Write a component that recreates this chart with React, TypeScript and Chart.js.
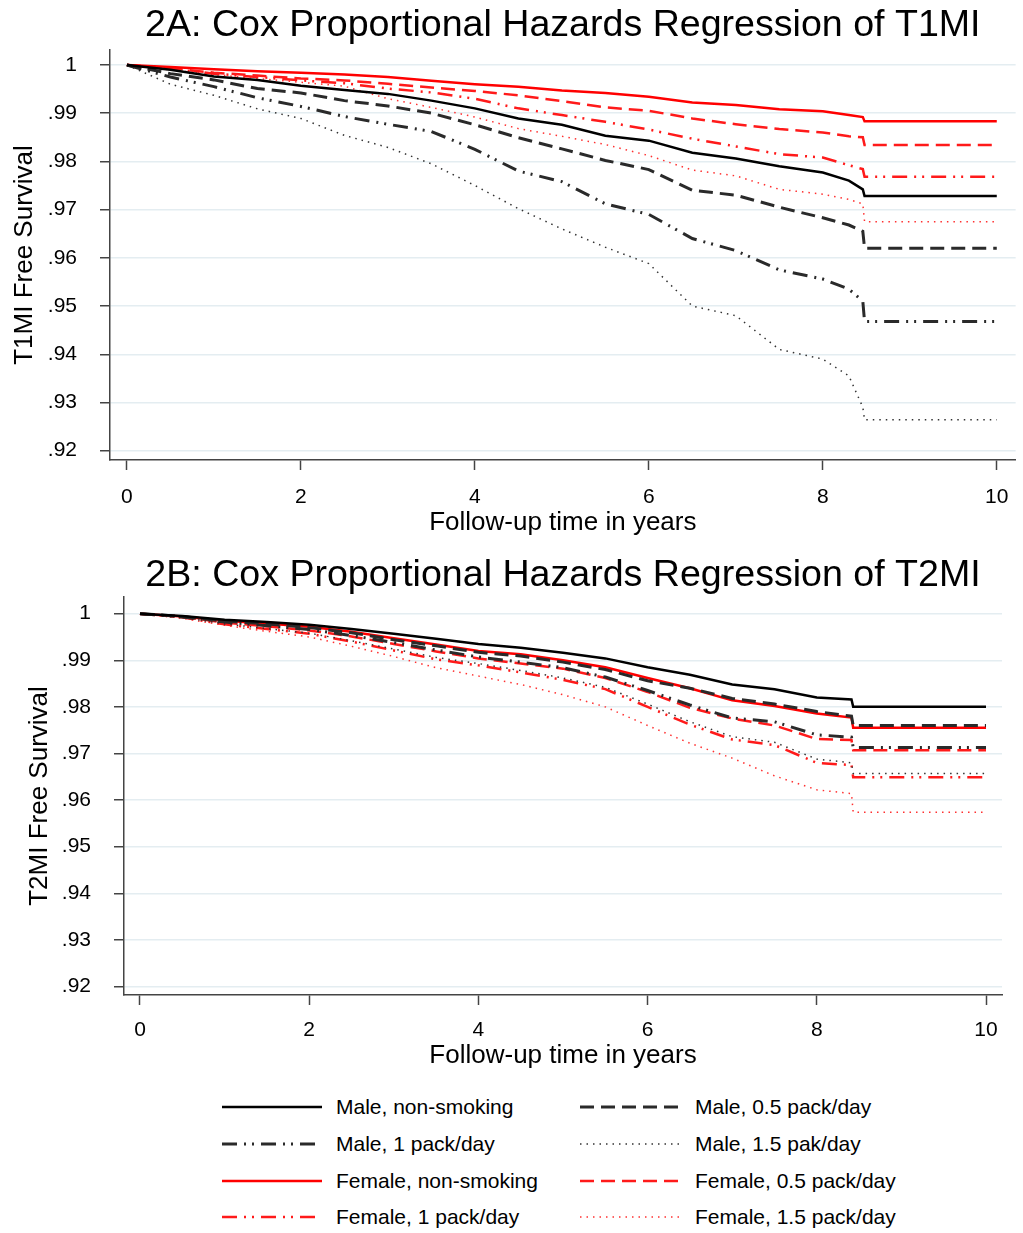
import React, { useEffect, useRef } from "react";
import { Chart, registerables } from "chart.js";

Chart.register(...registerables);

const FONT = "'Liberation Sans', Arial, Helvetica, sans-serif";

// ---------- data ----------
const seriesLabels = [
  "Male, non-smoking",
  "Male, 0.5 pack/day",
  "Male, 1 pack/day",
  "Male, 1.5 pak/day",
  "Female, non-smoking",
  "Female, 0.5 pack/day",
  "Female, 1 pack/day",
  "Female, 1.5 pack/day",
];

const xTickValues = [0, 2, 4, 6, 8, 10];
const yTickValues = [1, 0.99, 0.98, 0.97, 0.96, 0.95, 0.94, 0.93, 0.92];

// Panel 2A (T1MI)
const timesA = [0, 0.5, 1, 1.5, 2, 2.5, 3, 3.5, 4, 4.5, 5, 5.5, 6, 6.5, 7, 7.5, 8, 8.3, 8.46, 8.48, 10];
const maleNonSmokingA = [1, 0.999, 0.9976, 0.9969, 0.9957, 0.9948, 0.994, 0.9926, 0.991, 0.9889, 0.9876, 0.9853, 0.9843, 0.9818, 0.9806, 0.979, 0.9777, 0.976, 0.9742, 0.9728, 0.9728];
const maleHalfPackA = [1, 0.9982, 0.9969, 0.9951, 0.9942, 0.9926, 0.9915, 0.99, 0.9876, 0.9849, 0.9826, 0.9802, 0.9783, 0.974, 0.973, 0.9705, 0.9683, 0.9668, 0.9655, 0.962, 0.962];
const maleOnePackA = [1, 0.9975, 0.9955, 0.9932, 0.9914, 0.9893, 0.9877, 0.9862, 0.9825, 0.978, 0.9758, 0.9712, 0.969, 0.964, 0.9615, 0.9575, 0.9556, 0.9535, 0.951, 0.9468, 0.9468];
const maleOneHalfPackA = [1, 0.996, 0.9937, 0.9909, 0.9889, 0.9854, 0.9829, 0.9795, 0.975, 0.9702, 0.966, 0.9622, 0.9588, 0.95, 0.948, 0.941, 0.939, 0.9355, 0.929, 0.9264, 0.9264];
const femaleNonSmokingA = [1, 0.9996, 0.9991, 0.9987, 0.9984, 0.998, 0.9975, 0.9967, 0.996, 0.9955, 0.9947, 0.9942, 0.9934, 0.9922, 0.9917, 0.9908, 0.9904, 0.9896, 0.9892, 0.9883, 0.9883];
const femaleHalfPackA = [1, 0.9993, 0.9984, 0.9978, 0.9972, 0.9968, 0.9961, 0.9953, 0.9946, 0.9937, 0.9925, 0.9912, 0.9905, 0.9889, 0.9877, 0.9867, 0.986, 0.9852, 0.985, 0.9834, 0.9834];
const femaleOnePackA = [1, 0.9992, 0.9982, 0.9975, 0.9968, 0.9962, 0.9951, 0.9943, 0.993, 0.991, 0.9896, 0.9882, 0.9866, 0.9847, 0.9831, 0.9815, 0.9808, 0.9792, 0.9784, 0.9768, 0.9768];
const femaleOneHalfPackA = [1, 0.999, 0.998, 0.9972, 0.9964, 0.9956, 0.993, 0.9912, 0.9892, 0.9868, 0.9852, 0.9835, 0.9812, 0.9782, 0.977, 0.9742, 0.9732, 0.9721, 0.9712, 0.9675, 0.9675];

// Panel 2B (T2MI)
const timesB = [0, 0.5, 1, 1.5, 2, 2.5, 3, 3.5, 4, 4.5, 5, 5.5, 6, 6.5, 7, 7.5, 8, 8.41, 8.43, 10];
const maleNonSmokingB = [1, 0.9995, 0.9987, 0.9982, 0.9976, 0.9967, 0.9957, 0.9946, 0.9935, 0.9927, 0.9916, 0.9904, 0.9885, 0.9869, 0.9848, 0.9838, 0.982, 0.9816, 0.98, 0.98];
const maleHalfPackB = [1, 0.9994, 0.9984, 0.9978, 0.997, 0.9959, 0.9944, 0.9931, 0.9917, 0.9909, 0.9896, 0.988, 0.9856, 0.984, 0.9818, 0.9806, 0.979, 0.978, 0.976, 0.976];
const maleOnePackB = [1, 0.9993, 0.9982, 0.9974, 0.9966, 0.9953, 0.9938, 0.9922, 0.9907, 0.9896, 0.9884, 0.9864, 0.9835, 0.9804, 0.9776, 0.9768, 0.974, 0.9735, 0.9713, 0.9713];
const maleOneHalfPackB = [1, 0.9992, 0.9978, 0.9968, 0.9958, 0.9942, 0.9924, 0.9906, 0.9893, 0.9878, 0.9862, 0.9842, 0.9806, 0.9768, 0.9736, 0.9724, 0.9688, 0.968, 0.9657, 0.9657];
const femaleNonSmokingB = [1, 0.9994, 0.9985, 0.9979, 0.9972, 0.9961, 0.9947, 0.9934, 0.992, 0.9913, 0.99, 0.9885, 0.9862, 0.984, 0.9814, 0.9802, 0.9786, 0.9777, 0.9755, 0.9755];
const femaleHalfPackB = [1, 0.9993, 0.9981, 0.9973, 0.9964, 0.9951, 0.9935, 0.9919, 0.9904, 0.9893, 0.9882, 0.9862, 0.9832, 0.9798, 0.9775, 0.976, 0.9731, 0.9729, 0.9707, 0.9707];
const femaleOnePackB = [1, 0.9992, 0.9977, 0.9967, 0.9957, 0.994, 0.9921, 0.9902, 0.9889, 0.9874, 0.9858, 0.9838, 0.98, 0.9762, 0.973, 0.9718, 0.968, 0.9675, 0.9649, 0.9649];
const femaleOneHalfPackB = [1, 0.999, 0.9975, 0.9962, 0.995, 0.993, 0.9908, 0.9884, 0.9866, 0.9848, 0.9826, 0.98, 0.976, 0.9722, 0.969, 0.9652, 0.9622, 0.9614, 0.9574, 0.9574];

// ---------- styles ----------
const DASH = [14, 7];
const DASHDOT = [15, 7, 2, 6, 2, 7];
const DOT = [1.5, 5];
const STYLES = [
  { color: "#000000", width: 2.5, dash: [] as number[] },
  { color: "#2a2a2a", width: 3, dash: DASH },
  { color: "#2a2a2a", width: 3, dash: DASHDOT },
  { color: "#333333", width: 1.5, dash: DOT },
  { color: "#ff0000", width: 2.5, dash: [] as number[] },
  { color: "#ff1a1a", width: 2.5, dash: DASH },
  { color: "#ff1a1a", width: 2.5, dash: DASHDOT },
  { color: "#ff3030", width: 1.5, dash: DOT },
];

type PanelOpts = {
  times: number[];
  series: number[][];
  title: string;
  yTitle: string;
  yMin: number;
  yMax: number;
  xMin: number;
  xMax: number;
  yAxisWidth: number;
  xAxisHeight: number;
  padRight: number;
  titlePadTop: number;
  titlePadBottom: number;
  yTitlePad: number;
  xTitlePad: number;
  xTickPad: number;
};

function buildConfig(o: PanelOpts): any {
  return {
    type: "line",
    data: {
      datasets: o.series.map((vals, i) => ({
        label: seriesLabels[i],
        data: vals.map((v, j) => ({ x: o.times[j], y: v })),
        borderColor: STYLES[i].color,
        borderWidth: STYLES[i].width,
        borderDash: STYLES[i].dash,
        pointRadius: 0,
        tension: 0,
        fill: false,
      })),
    },
    options: {
      animation: false,
      responsive: true,
      maintainAspectRatio: false,
      devicePixelRatio: 1,
      layout: { padding: { left: 0, right: o.padRight, top: 0, bottom: 0 } },
      plugins: {
        legend: { display: false },
        tooltip: { enabled: false },
        title: {
          display: true,
          text: o.title,
          fullSize: false,
          color: "#000",
          font: { family: FONT, size: 37.6, weight: "normal", lineHeight: 1.1 },
          padding: { top: o.titlePadTop, bottom: o.titlePadBottom },
        },
      },
      scales: {
        x: {
          type: "linear",
          min: o.xMin,
          max: o.xMax,
          afterBuildTicks: (axis: any) => {
            axis.ticks = xTickValues.map((v) => ({ value: v }));
          },
          afterFit: (s: any) => {
            s.height = o.xAxisHeight;
          },
          ticks: {
            autoSkip: false,
            maxRotation: 0,
            color: "#000",
            padding: o.xTickPad,
            font: { family: FONT, size: 21, lineHeight: 1.2 },
            callback: (v: any) => String(v),
          },
          grid: {
            drawOnChartArea: false,
            drawTicks: true,
            tickLength: 10,
            tickColor: "#444",
            tickWidth: 1.5,
          },
          border: { display: true, color: "#444", width: 1.5 },
          title: {
            display: true,
            text: "Follow-up time in years",
            color: "#000",
            font: { family: FONT, size: 26, lineHeight: 1.2 },
            padding: { top: 0, bottom: o.xTitlePad },
          },
        },
        y: {
          type: "linear",
          min: o.yMin,
          max: o.yMax,
          afterBuildTicks: (axis: any) => {
            axis.ticks = yTickValues.map((v) => ({ value: v }));
          },
          afterFit: (s: any) => {
            s.width = o.yAxisWidth;
          },
          ticks: {
            autoSkip: false,
            color: "#000",
            padding: 23,
            font: { family: FONT, size: 21, lineHeight: 1.2 },
            callback: (v: any) =>
              Math.abs(v - 1) < 1e-9 ? "1" : Number(v).toFixed(2).replace(/^0/, ""),
          },
          grid: {
            drawOnChartArea: true,
            color: "#e4edf1",
            lineWidth: 1.5,
            drawTicks: true,
            tickLength: 10,
            tickColor: "#444",
            tickWidth: 1.5,
          },
          border: { display: true, color: "#444", width: 1.5 },
          title: {
            display: true,
            text: o.yTitle,
            color: "#000",
            font: { family: FONT, size: 26, lineHeight: 1.2 },
            padding: { top: o.yTitlePad, bottom: 0 },
          },
        },
      },
    },
  };
}

function Panel({ opts, top }: { opts: PanelOpts; top: number }) {
  const ref = useRef<HTMLCanvasElement | null>(null);
  useEffect(() => {
    if (!ref.current) return;
    const chart = new Chart(ref.current, buildConfig(opts));
    return () => chart.destroy();
  }, []);
  return (
    <div style={{ position: "absolute", left: 0, top, width: 1023, height: 540 }}>
      <canvas ref={ref} />
    </div>
  );
}

const panelA: PanelOpts = {
  times: timesA,
  series: [
    maleNonSmokingA,
    maleHalfPackA,
    maleOnePackA,
    maleOneHalfPackA,
    femaleNonSmokingA,
    femaleHalfPackA,
    femaleOnePackA,
    femaleOneHalfPackA,
  ],
  title: "2A: Cox Proportional Hazards Regression of T1MI",
  yTitle: "T1MI Free Survival",
  yMin: 0.91807,
  yMax: 1.00311,
  xMin: -0.1945,
  xMax: 10.217,
  yAxisWidth: 110,
  xAxisHeight: 80,
  padRight: 3,
  titlePadTop: 4.9,
  titlePadBottom: 3.7,
  yTitlePad: 9.4,
  xTitlePad: 1.6,
  xTickPad: 14.4,
};

const panelB: PanelOpts = {
  times: timesB,
  series: [
    maleNonSmokingB,
    maleHalfPackB,
    maleOnePackB,
    maleOneHalfPackB,
    femaleNonSmokingB,
    femaleHalfPackB,
    femaleOnePackB,
    femaleOneHalfPackB,
  ],
  title: "2B: Cox Proportional Hazards Regression of T2MI",
  yTitle: "T2MI Free Survival",
  yMin: 0.91818,
  yMax: 1.00358,
  xMin: -0.189,
  xMax: 10.189,
  yAxisWidth: 124,
  xAxisHeight: 85,
  padRight: 21,
  titlePadTop: 14.9,
  titlePadBottom: 0.7,
  yTitlePad: 24.4,
  xTitlePad: 8.4,
  xTickPad: 12.4,
};

// legend layout: [series index, column, row]
const legendOrder = [
  [0, 0, 0],
  [1, 1, 0],
  [2, 0, 1],
  [3, 1, 1],
  [4, 0, 2],
  [5, 1, 2],
  [6, 0, 3],
  [7, 1, 3],
];
const legendRowY = [1107, 1144, 1181, 1217];
const legendColLineX = [222, 580];
const legendColTextX = [336, 695];

function Legend() {
  return (
    <>
      {legendOrder.map(([si, col, row]) => {
        const st = STYLES[si];
        const y = legendRowY[row];
        return (
          <React.Fragment key={si}>
            <svg
              width={100}
              height={12}
              style={{ position: "absolute", left: legendColLineX[col], top: y - 6 }}
            >
              <line
                x1={0}
                y1={6}
                x2={100}
                y2={6}
                stroke={st.color}
                strokeWidth={st.width}
                strokeDasharray={st.dash.length ? st.dash.join(" ") : undefined}
              />
            </svg>
            <div
              style={{
                position: "absolute",
                left: legendColTextX[col],
                top: y - 13,
                height: 26,
                lineHeight: "26px",
                fontFamily: FONT,
                fontSize: 21,
                color: "#000",
                whiteSpace: "nowrap",
              }}
            >
              {seriesLabels[si]}
            </div>
          </React.Fragment>
        );
      })}
    </>
  );
}

export default function App() {
  return (
    <div style={{ position: "absolute", left: 0, top: 0, width: 1023, height: 1233, background: "#fff" }}>
      <Panel opts={panelA} top={0} />
      <Panel opts={panelB} top={540} />
      <Legend />
    </div>
  );
}
